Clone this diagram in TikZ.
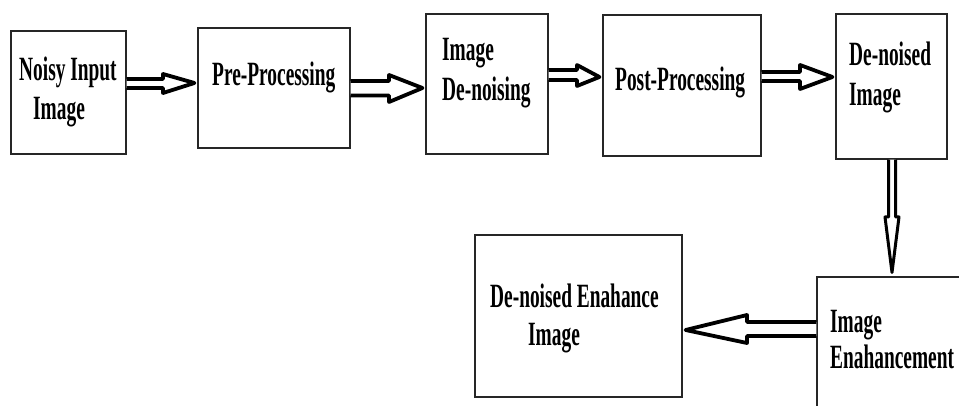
\documentclass[tikz,border=0pt]{standalone}
\usepackage{fontspec}
\usetikzlibrary{calc}
\newfontfamily\dfont{Liberation Serif}[FakeStretch=0.57]
\begin{document}
\begin{tikzpicture}[x=1pt,y=-1pt,
  box/.style={draw=black!85,line width=1.1pt,inner sep=0pt},
  lbl/.style={anchor=base west,inner sep=0pt,font=\dfont\bfseries\fontsize{34}{40}\selectfont,text=black},
  blk/.style={draw=black,line width=3.8pt,fill=white,line join=round}]
\useasboundingbox (0,0) rectangle (959,406);
\clip (0,0) rectangle (959,406);
% boxes
\node[box,minimum width=115pt,minimum height=123pt] (b1) at (68.5,92.5) {};
\node[box,minimum width=152pt,minimum height=120pt] (b2) at (274,88) {};
\node[box,minimum width=122pt,minimum height=140pt] (b3) at (487,84) {};
\node[box,minimum width=158pt,minimum height=141pt] (b4) at (682,85.5) {};
\node[box,minimum width=111pt,minimum height=145pt] (b5) at (891.5,86.5) {};
\node[box,minimum width=207pt,minimum height=162pt] (b6) at (578.5,316) {};
\node[box,minimum width=148pt,minimum height=138pt] (b7) at (891,346) {};
% labels
\node[lbl] (t1a) at (19,81) {Noisy Input};
\node[lbl] (t1b) at (33,120) {Image};
\node[lbl] (t2) at (212,86) {Pre-Processing};
\node[lbl] (t3a) at (442,61) {Image};
\node[lbl] (t3b) at (442,101) {De-noising};
\node[lbl] (t4) at (615,91) {Post-Processing};
\node[lbl] (t5a) at (849,66) {De-noised};
\node[lbl] (t5b) at (849,106) {Image};
\node[lbl] (t6a) at (490,307) {De-noised Enahance};
\node[lbl] (t6b) at (528,345) {Image};
\node[lbl] (t7a) at (830,332) {Image};
\node[lbl] (t7b) at (830,368) {Enahancement};
% arrow tips
\coordinate (p1) at ($(b2.west |- 0,83)+(-3,0)$);
\coordinate (p2) at ($(b3.west |- 0,88)+(-3,0)$);
\coordinate (p3) at ($(b4.west |- 0,77)+(-3,0)$);
\coordinate (p4) at ($(b5.west |- 0,77)+(-3,0)$);
\coordinate (p5) at ($(892,0 |- b7.north)+(0,-4)$);
\coordinate (p6) at ($(b6.east |- 0,330)+(3,0)$);
% block arrows
\draw[blk] (b1.east |- 0,79) -- (163,79) -- (163,74) -- (p1) -- (163,93) -- (163,88) -- (b1.east |- 0,88);
\draw[blk] (b2.east |- 0,81) -- (389,81) -- (389,75) -- (p2) -- (389,102) -- (389,95.5) -- (b2.east |- 0,95.5);
\draw[blk] (b3.east |- 0,70) -- (577,70) -- (577,65) -- (p3) -- (577,86) -- (577,80) -- (b3.east |- 0,80);
\draw[blk] (b4.east |- 0,72) -- (800,72) -- (800,65) -- (p4) -- (800,89) -- (800,81) -- (b4.east |- 0,81);
\draw[blk,line width=3pt] (888.5,0 |- b5.south) -- (888.5,217) -- (885,217) -- (p5) -- (899,217) -- (895.5,217) -- (895.5,0 |- b5.south);
\draw[blk] (b7.west |- 0,322) -- (747,322) -- (747,315) -- (p6) -- (747,343) -- (747,336) -- (b7.west |- 0,336);
\end{tikzpicture}
\end{document}
